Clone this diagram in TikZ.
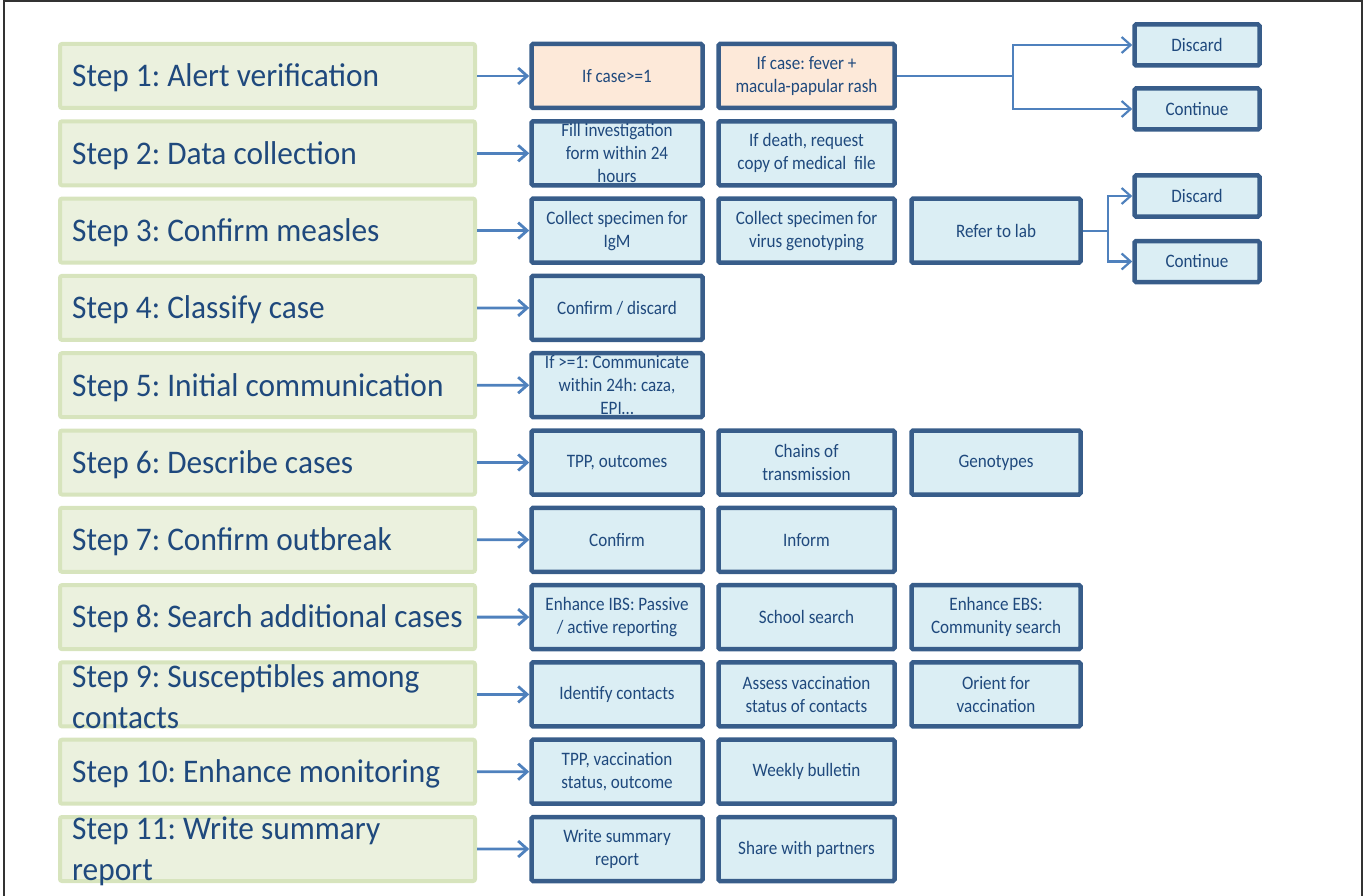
\documentclass[tikz,border=0pt]{standalone}
\usepackage{fontspec}
\setmainfont{Carlito}
\newfontfamily\stepfont[FakeStretch=0.95]{Carlito}
\newfontfamily\cellfont[FakeStretch=0.9]{Carlito}
\usetikzlibrary{arrows.meta,positioning}
\frenchspacing

\definecolor{stepfill}{HTML}{EBF1DE}
\definecolor{stepedge}{HTML}{D7E4BD}
\definecolor{cellfill}{HTML}{DBEEF4}
\definecolor{peach}{HTML}{FDE9D9}
\definecolor{celledge}{HTML}{385D8A}
\definecolor{inkblue}{HTML}{1F497D}
\definecolor{linkblue}{HTML}{4F81BD}

\tikzset{
  stepbox/.style={draw=stepedge,line width=4pt,fill=stepfill,rounded corners=2pt,
    minimum width=415pt,minimum height=64pt,inner sep=0pt},
  steptext/.style={anchor=west,align=left,text=inkblue,inner sep=0pt,
    font=\stepfont\fontsize{33}{41}\selectfont},
  cell/.style={draw=celledge,line width=4.5pt,fill=cellfill,rounded corners=1.5pt,
    minimum height=64pt,inner sep=0pt,align=center,text=inkblue,
    font=\cellfont\fontsize{19}{23}\selectfont},
  cellA/.style={cell,minimum width=171pt},
  cellB/.style={cell,minimum width=176pt},
  cellC/.style={cell,minimum width=169pt},
  endbox/.style={cell,minimum width=125pt,minimum height=41pt},
  link/.style={draw=linkblue,line width=2.8pt,-{Straight Barb[length=9pt,width=16pt]}},
  branch/.style={draw=linkblue,line width=2.2pt},
}

\begin{document}
\begin{tikzpicture}[x=1pt,y=-1pt]
\useasboundingbox (0,0) rectangle (1367,896);
\draw[line width=2.5pt,black!80] (4,900) -- (4,1.2) -- (1362,1.2) -- (1362,900);

% steps on the left
\foreach \i/\txt in {1/{Step 1: Alert verification},
                     2/{Step 2: Data collection},
                     3/{Step 3: Confirm measles},
                     4/{Step 4: Classify case},
                     5/{Step 5: Initial communication},
                     6/{Step 6: Describe cases},
                     7/{Step 7: Confirm outbreak},
                     8/{Step 8: Search additional cases},
                     9/{Step 9: Susceptibles among\\contacts},
                     10/{Step 10: Enhance monitoring},
                     11/{Step 11: Write summary\\report}}{
  \node[stepbox] (s\i) at (267.5,{76+77.3*(\i-1)}) {};
  \node[steptext] (t\i) at ([xshift=14pt,yshift=-2pt]s\i.west) {\txt};
}

% actions, one row per step
\node[cellA,fill=peach] (c11) at (617,76) {If case>=1};
\node[cellB,fill=peach] (c12) at (806.5,76) {If case: fever +\\macula-papular rash};
\node[cellA] (c21) at (617,153.3) {Fill investigation\\form within 24\\hours};
\node[cellB] (c22) at (806.5,153.3) {If death, request\\copy of medical\ \ file};
\node[cellA] (c31) at (617,230.6) {Collect specimen for\\IgM};
\node[cellB] (c32) at (806.5,230.6) {Collect specimen for\\virus genotyping};
\node[cellC] (c33) at (996,230.6) {Refer to lab};
\node[cellA] (c41) at (617,307.9) {Confirm / discard};
\node[cellA] (c51) at (617,385.2) {If >=1: Communicate\\within 24h: caza,\\EPI…};
\node[cellA] (c61) at (617,462.5) {TPP, outcomes};
\node[cellB] (c62) at (806.5,462.5) {Chains of\\transmission};
\node[cellC] (c63) at (996,462.5) {Genotypes};
\node[cellA] (c71) at (617,539.8) {Confirm};
\node[cellB] (c72) at (806.5,539.8) {Inform};
\node[cellA] (c81) at (617,617.1) {Enhance IBS: Passive\\/ active reporting};
\node[cellB] (c82) at (806.5,617.1) {School search};
\node[cellC] (c83) at (996,617.1) {Enhance EBS:\\Community search};
\node[cellA] (c91) at (617,694.4) {Identify contacts};
\node[cellB] (c92) at (806.5,694.4) {Assess vaccination\\status of contacts};
\node[cellC] (c93) at (996,694.4) {Orient for\\vaccination};
\node[cellA] (c101) at (617,771.7) {TPP, vaccination\\status, outcome};
\node[cellB] (c102) at (806.5,771.7) {Weekly bulletin};
\node[cellA] (c111) at (617,849) {Write summary\\report};
\node[cellB] (c112) at (806.5,849) {Share with partners};

% outcomes of the two checks
\node[endbox] (d1) at (1197,45) {Discard};
\node[endbox] (k1) at (1197,109) {Continue};
\node[endbox] (d2) at (1197,196) {Discard};
\node[endbox] (k2) at (1197,261.5) {Continue};

\foreach \i in {1,...,11}
  \draw[link] (s\i.east) -- (c\i1.west);

\coordinate (j1) at (1013,76);
\coordinate (j2) at (1108,230.6);
\draw[branch] (c12.east) -- (j1);
\draw[branch,link,line width=2.2pt] (j1) |- (d1);
\draw[branch,link,line width=2.2pt] (j1) |- (k1);
\draw[branch] (c33.east) -- (j2);
\draw[branch,link,line width=2.2pt] (j2) |- (d2);
\draw[branch,link,line width=2.2pt] (j2) |- (k2);
\end{tikzpicture}
\end{document}
